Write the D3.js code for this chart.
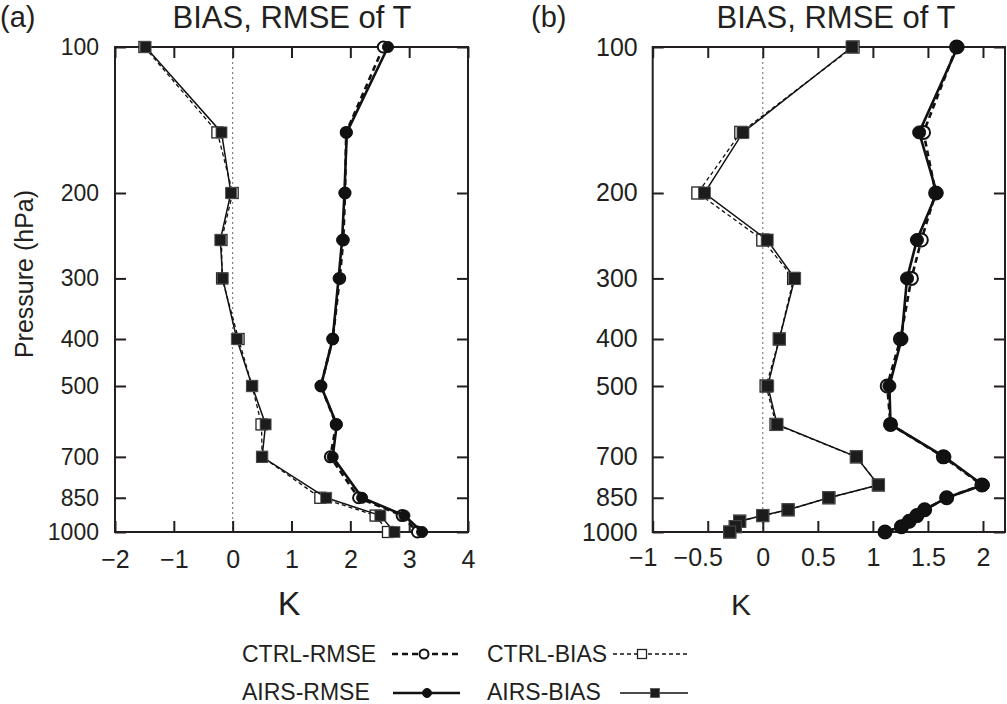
<!DOCTYPE html>
<html>
<head>
<meta charset="utf-8">
<script src="https://cdn.jsdelivr.net/npm/d3@7"></script>
<style>
  body { margin: 0; background: #fff; }
  svg { font-family: "Liberation Sans", Arial, sans-serif; fill: #231f20; }
  .frame { fill: none; stroke: #231f20; stroke-width: 2; }
  .tick line { stroke: #231f20; stroke-width: 2; }
  .zero { stroke: #666; stroke-width: 1; stroke-dasharray: 2,3; }
</style>
</head>
<body>
<div id="wrapper"></div>
<script>
// DATA: pressure levels (hPa) and temperature stats (K)
const levelsA = [100, 150, 200, 250, 300, 400, 500, 600, 700, 850, 925, 1000];
const ctrlRmseA = [2.56, 1.93, 1.91, 1.88, 1.82, 1.70, 1.50, 1.76, 1.66, 2.14, 2.88, 3.14];
const airsRmseA = [2.64, 1.94, 1.90, 1.86, 1.80, 1.70, 1.50, 1.77, 1.70, 2.20, 2.92, 3.22];
const ctrlBiasA = [-1.50, -0.26, 0.00, -0.19, -0.18, 0.10, 0.33, 0.49, 0.50, 1.49, 2.43, 2.64];
const airsBiasA = [-1.48, -0.19, -0.03, -0.21, -0.17, 0.07, 0.33, 0.56, 0.50, 1.59, 2.51, 2.75];

const levelsB = [100, 150, 200, 250, 300, 400, 500, 600, 700, 800, 850, 900, 925, 950, 975, 1000];
const ctrlRmseB = [1.76, 1.46, 1.57, 1.44, 1.35, 1.25, 1.13, 1.16, 1.64, 1.99, 1.67, 1.47, 1.40, 1.33, 1.26, 1.11];
const airsRmseB = [1.77, 1.42, 1.58, 1.40, 1.31, 1.26, 1.15, 1.16, 1.65, 2.00, 1.67, 1.47, 1.40, 1.33, 1.26, 1.11];
const ctrlBiasB = [0.82, -0.20, -0.59, 0.00, 0.28, 0.15, 0.03, 0.12, 0.85, 1.05, 0.60, 0.23, 0.00, -0.21, -0.25, -0.30];
const airsBiasB = [0.81, -0.18, -0.53, 0.04, 0.29, 0.15, 0.045, 0.13, 0.85, 1.05, 0.60, 0.23, 0.00, -0.21, -0.25, -0.30];

const pressureTicks = [100, 200, 300, 400, 500, 700, 850, 1000];
const xTicksA = [-2, -1, 0, 1, 2, 3, 4];
const xTicksB = [-1, -0.5, 0, 0.5, 1, 1.5, 2];
const seriesNames = ["CTRL-RMSE", "CTRL-BIAS", "AIRS-RMSE", "AIRS-BIAS"];

// styles per series
const styles = {
  "CTRL-RMSE": { dash: "6,4", width: 2.6, marker: "circle", filled: false },
  "AIRS-RMSE": { dash: null, width: 2.6, marker: "circle", filled: true },
  "CTRL-BIAS": { dash: "4,3", width: 1.3, marker: "square", filled: false },
  "AIRS-BIAS": { dash: null, width: 1.5, marker: "square", filled: true }
};

const svg = d3.select("#wrapper").append("svg")
  .attr("width", 1007)
  .attr("height", 704);

function drawMarker(g, kind, filled, cx, cy, size) {
  if (kind === "circle") {
    g.append("circle")
      .attr("cx", cx).attr("cy", cy).attr("r", size / 2)
      .attr("fill", filled ? "#111" : "#fff")
      .attr("stroke", "#111")
      .attr("stroke-width", filled ? 1 : 2);
  } else {
    g.append("rect")
      .attr("x", cx - size / 2).attr("y", cy - size / 2)
      .attr("width", size).attr("height", size)
      .attr("fill", filled ? "#1c1c1c" : "#fff")
      .attr("stroke", filled ? "#555" : "#222")
      .attr("stroke-width", filled ? 0.8 : 1.3);
  }
}

function drawPanel(p) {
  const x = d3.scaleLinear().domain(p.xDomain).range([p.left, p.right]);
  const y = d3.scaleLog().domain([100, 1000]).range([p.top, p.bottom]);
  const g = svg.append("g");

  // zero line
  g.append("line").attr("class", "zero")
    .attr("x1", x(0)).attr("x2", x(0))
    .attr("y1", p.top).attr("y2", p.bottom);

  // axes with inward ticks
  const bottom = g.append("g")
    .attr("transform", `translate(0,${p.bottom})`)
    .call(d3.axisBottom(x).tickValues(p.xTicks).tickSize(-11).tickPadding(p.xPad)
      .tickFormat(d3.format("")));
  bottom.selectAll("text").style("font-size", p.xFont + "px").attr("fill", "#231f20");
  if (p.shiftMinus) {
    bottom.selectAll("text").filter(d => d < 0).attr("dx", "-0.4em");
  }

  g.append("g")
    .attr("transform", `translate(0,${p.top})`)
    .call(d3.axisTop(x).tickValues(p.xTicks).tickSize(-11).tickFormat(""));

  const left = g.append("g")
    .attr("transform", `translate(${p.left},0)`)
    .call(d3.axisLeft(y).tickValues(pressureTicks).tickSize(-11).tickPadding(p.yPad)
      .tickFormat(d3.format("d")));
  left.selectAll("text").style("font-size", p.yFont + "px").attr("fill", "#231f20");

  g.append("g")
    .attr("transform", `translate(${p.right},0)`)
    .call(d3.axisRight(y).tickValues(pressureTicks).tickSize(-11).tickFormat(""));

  g.selectAll(".domain").remove();
  g.selectAll(".tick text").attr("font-family", null);
  g.selectAll(".tick line").attr("stroke", null);

  g.append("rect").attr("class", "frame")
    .attr("x", p.left).attr("y", p.top)
    .attr("width", p.right - p.left).attr("height", p.bottom - p.top);

  // series: CTRL drawn first, AIRS on top
  const order = ["CTRL-BIAS", "CTRL-RMSE", "AIRS-BIAS", "AIRS-RMSE"];
  order.forEach(name => {
    const s = styles[name];
    const vals = p.series[name];
    const pts = p.levels.map((lev, i) => [x(vals[i]), y(lev)]);
    g.append("path")
      .attr("d", d3.line()(pts))
      .attr("fill", "none")
      .attr("stroke", "#111")
      .attr("stroke-width", s.width)
      .attr("stroke-dasharray", s.dash);
    const mg = g.append("g");
    const size = s.marker === "circle" ? p.circleSize : p.squareSize;
    pts.forEach(pt => drawMarker(mg, s.marker, s.filled, pt[0], pt[1], size));
  });

  // texts
  svg.append("text").attr("x", p.labelX).attr("y", 27)
    .style("font-size", "29px").text(p.label);
  svg.append("text").attr("x", p.titleX).attr("y", 28)
    .attr("text-anchor", "middle")
    .style("font-size", "31px").text("BIAS, RMSE of T");
  svg.append("text").attr("x", p.kX).attr("y", 615)
    .attr("text-anchor", "middle")
    .style("font-size", p.kFont + "px").text("K");
  if (p.yTitle) {
    svg.append("text")
      .attr("transform", "translate(33,274) rotate(-90)")
      .attr("text-anchor", "middle")
      .style("font-size", "25px").text(p.yTitle);
  }
}

drawPanel({
  label: "(a)", labelX: 0, titleX: 292, yTitle: "Pressure (hPa)",
  left: 115, right: 468, top: 47, bottom: 532,
  xDomain: [-2, 4], xTicks: xTicksA,
  xFont: 25, xPad: 18, yFont: 23, yPad: 16,
  shiftMinus: false, kX: 289, kFont: 34,
  circleSize: 11, squareSize: 11,
  levels: levelsA,
  series: {
    "CTRL-RMSE": ctrlRmseA, "AIRS-RMSE": airsRmseA,
    "CTRL-BIAS": ctrlBiasA, "AIRS-BIAS": airsBiasA
  }
});

drawPanel({
  label: "(b)", labelX: 531, titleX: 836,
  left: 652.7, right: 1005, top: 47, bottom: 532,
  xDomain: [-1, 2.2], xTicks: xTicksB,
  xFont: 25, xPad: 16, yFont: 25, yPad: 15,
  shiftMinus: true, kX: 741, kFont: 30,
  circleSize: 13, squareSize: 12,
  levels: levelsB,
  series: {
    "CTRL-RMSE": ctrlRmseB, "AIRS-RMSE": airsRmseB,
    "CTRL-BIAS": ctrlBiasB, "AIRS-BIAS": airsBiasB
  }
});

// LEGEND
const legendPos = {
  "CTRL-RMSE": { tx: 242, ty: 662, x1: 392, x2: 460, mx: 424, my: 654 },
  "CTRL-BIAS": { tx: 487, ty: 662, x1: 613, x2: 688, mx: 642, my: 654 },
  "AIRS-RMSE": { tx: 242, ty: 700, x1: 393, x2: 460, mx: 427, my: 693 },
  "AIRS-BIAS": { tx: 487, ty: 700, x1: 620, x2: 688, mx: 655, my: 693 }
};
const legend = svg.append("g");
seriesNames.forEach(name => {
  const s = styles[name];
  const lp = legendPos[name];
  legend.append("text").attr("x", lp.tx).attr("y", lp.ty)
    .style("font-size", "23px").text(name);
  legend.append("line")
    .attr("x1", lp.x1).attr("x2", lp.x2)
    .attr("y1", lp.my).attr("y2", lp.my)
    .attr("stroke", "#111")
    .attr("stroke-width", s.width)
    .attr("stroke-dasharray", s.dash);
  drawMarker(legend, s.marker, s.filled, lp.mx, lp.my, 9);
});
</script>
</body>
</html>
